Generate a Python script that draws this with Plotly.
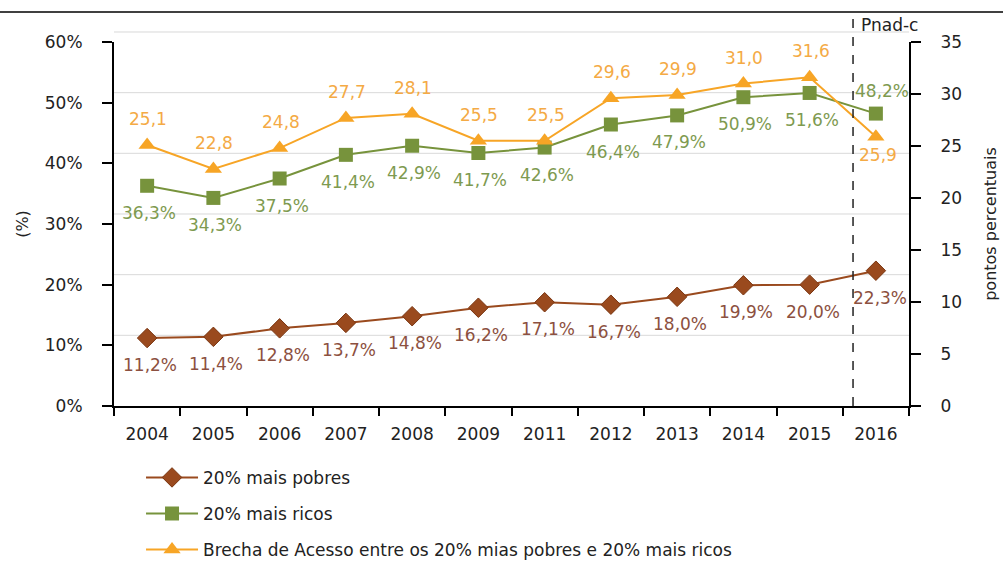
import plotly.graph_objects as go

years = ["2004", "2005", "2006", "2007", "2008", "2009", "2011", "2012", "2013", "2014", "2015", "2016"]
pobres = [11.2, 11.4, 12.8, 13.7, 14.8, 16.2, 17.1, 16.7, 18.0, 19.9, 20.0, 22.3]
ricos = [36.3, 34.3, 37.5, 41.4, 42.9, 41.7, 42.6, 46.4, 47.9, 50.9, 51.6, 48.2]
brecha = [25.1, 22.8, 24.8, 27.7, 28.1, 25.5, 25.5, 29.6, 29.9, 31.0, 31.6, 25.9]
left_ticks = [0, 10, 20, 30, 40, 50, 60]
right_ticks = [0, 5, 10, 15, 20, 25, 30, 35]

BROWN = "#9A4A1E"
GREEN = "#77933C"
ORANGE = "#F7A526"
BROWN_T = "#8C5040"
GREEN_T = "#7E9A50"
ORANGE_T = "#F4AA45"
FONT = "DejaVu Sans"

fig = go.Figure()
fig.add_trace(go.Scatter(x=years, y=pobres, name="20% mais pobres", mode="lines+markers",
                         line=dict(color=BROWN, width=2),
                         marker=dict(symbol="diamond", size=15, color=BROWN, line=dict(color="#7A3510", width=1)),
                         legendgroup="a", yaxis="y"))
fig.add_trace(go.Scatter(x=years, y=ricos, name="20% mais ricos", mode="lines+markers",
                         line=dict(color=GREEN, width=2),
                         marker=dict(symbol="square", size=14, color=GREEN),
                         legendgroup="b", yaxis="y"))
fig.add_trace(go.Scatter(x=years, y=brecha, name="Brecha de Acesso entre os 20% mias pobres e 20% mais ricos",
                         mode="lines+markers",
                         line=dict(color=ORANGE, width=2),
                         marker=dict(symbol="triangle-up", size=15, color=ORANGE),
                         legendgroup="c", yaxis="y2"))

def fmt(v, pct):
    s = f"{v:.1f}".replace(".", ",")
    return s + "%" if pct else s

ann = []
last = len(years) - 1
for i, yr in enumerate(years):
    # pobres labels below
    ann.append(dict(x=i, y=pobres[i], xref="x", yref="y", text=fmt(pobres[i], True),
                    showarrow=False, yshift=-27, xshift=(4 if i == last else 3),
                    font=dict(family=FONT, size=17, color=BROWN_T)))
    # ricos labels below (last one above)
    ann.append(dict(x=i, y=ricos[i], xref="x", yref="y", text=fmt(ricos[i], True),
                    showarrow=False, yshift=(23 if i == last else -27), xshift=(6 if i == last else 2),
                    font=dict(family=FONT, size=17, color=GREEN_T)))
    # brecha labels above (last one below)
    ann.append(dict(x=i, y=brecha[i], xref="x", yref="y2", text=fmt(brecha[i], False),
                    showarrow=False, yshift=(-18 if i == last else 26), xshift=(2 if i == last else 1),
                    font=dict(family=FONT, size=17, color=ORANGE_T)))

ann.append(dict(x=0.937, y=1.048, xref="paper", yref="paper", text="Pnad-c", showarrow=False,
                xanchor="left", yanchor="middle", font=dict(family=FONT, size=17, color="#222222")))

shapes = []
for v in left_ticks[1:]:
    g = v + 1.65
    shapes.append(dict(type="line", xref="paper", yref="paper", x0=0, x1=1, y0=g / 60, y1=g / 60,
                       line=dict(color="#D9D9D9", width=1), layer="below"))
shapes.append(dict(type="line", xref="paper", yref="paper", x0=-0.2, x1=1.2, y0=1.0824, y1=1.0824,
                   line=dict(color="#404040", width=2)))
shapes.append(dict(type="line", xref="paper", yref="paper", x0=0.9296, x1=0.9296, y0=0, y1=1.0824,
                   line=dict(color="#222222", width=1.5, dash="dash")))

fig.update_layout(
    width=1003, height=563,
    margin=dict(l=114, r=94, t=42, b=157, autoexpand=False),
    paper_bgcolor="white", plot_bgcolor="white",
    font=dict(family=FONT, size=17, color="#222222"),
    showlegend=True,
    legend=dict(x=0.034, y=-0.148, xanchor="left", yanchor="top", orientation="v",
                font=dict(family=FONT, size=17, color="#222222"), tracegroupgap=11,
                bgcolor="rgba(0,0,0,0)", itemwidth=52),
    xaxis=dict(type="category", range=[-0.5, len(years) - 0.5], showline=True, linecolor="black", linewidth=2,
               ticks="outside", tickson="boundaries", ticklen=8, tickwidth=2, tickcolor="black",
               showgrid=False, tickfont=dict(family=FONT, size=17, color="#222222"),
               ticklabelstandoff=12, automargin=False),
    yaxis=dict(range=[0, 60], tickvals=left_ticks, ticktext=[f"{v}%" for v in left_ticks],
               showline=True, linecolor="black", linewidth=2, ticks="outside", ticklen=10,
               tickwidth=2, tickcolor="black", showgrid=False, zeroline=False,
               tickfont=dict(family=FONT, size=17, color="#222222"), ticklabelstandoff=16,
               title=dict(text="(%)", standoff=12, font=dict(family=FONT, size=16, color="#222222"))),
    yaxis2=dict(range=[0, 35], tickvals=right_ticks, overlaying="y", side="right",
                showline=True, linecolor="black", linewidth=2, ticks="outside", ticklen=10,
                tickwidth=2, tickcolor="black", showgrid=False, zeroline=False,
                tickfont=dict(family=FONT, size=17, color="#222222"), ticklabelstandoff=16,
                title=dict(text="pontos percentuais", standoff=24, font=dict(family=FONT, size=16, color="#222222"))),
    annotations=ann,
    shapes=shapes,
)

fig.write_html("out.html")
